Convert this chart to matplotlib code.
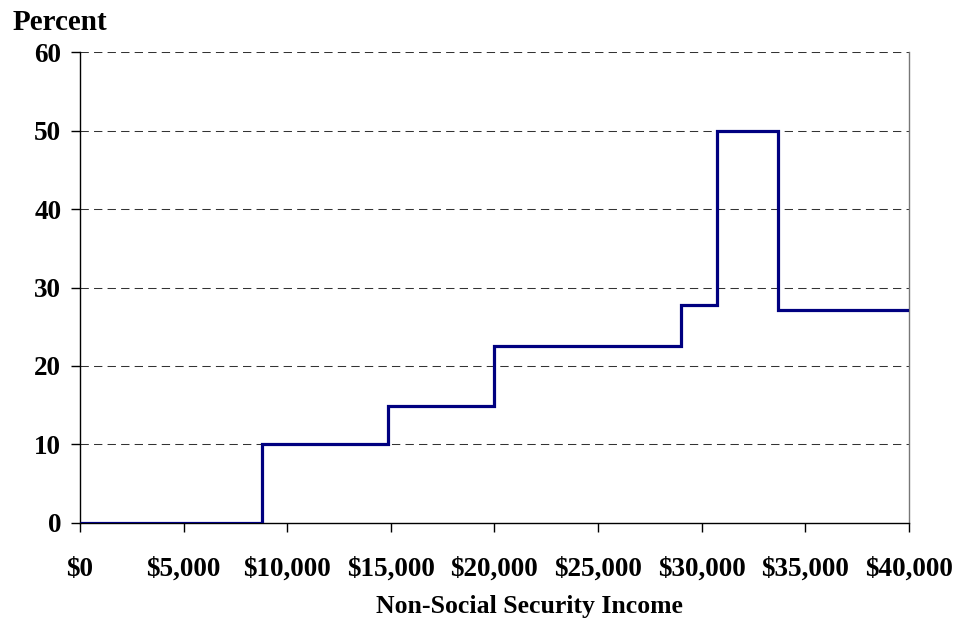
import matplotlib
matplotlib.use("Agg")
from matplotlib import pyplot as plt

# Limites das faixas de renda e percentual em cada faixa
limites_renda = [0, 8800, 14850, 20000, 29000, 30750, 33700, 40000]
percentuais = [0, 10, 14.9, 22.6, 27.8, 50, 27.1]

ticks_x = [0, 5000, 10000, 15000, 20000, 25000, 30000, 35000, 40000]
rotulos_x = ["$0", "$5,000", "$10,000", "$15,000", "$20,000",
             "$25,000", "$30,000", "$35,000", "$40,000"]
ticks_y = [0, 10, 20, 30, 40, 50, 60]

plt.rcParams['font.family'] = ['Liberation Serif', 'DejaVu Serif']
plt.rcParams['font.weight'] = 'bold'

fig = plt.figure(figsize=(9.57, 6.23), dpi=100)
ax = fig.add_axes([0.0836, 0.161, 0.9495 - 0.0836, 0.916 - 0.161])

ax.stairs(percentuais, limites_renda, baseline=None, color='#000080', linewidth=2.3, zorder=3)

ax.set_xlim(0, 40000)
ax.set_ylim(0, 60)
ax.set_xticks(ticks_x)
ax.set_xticklabels(rotulos_x)
ax.set_yticks(ticks_y)

for y in ticks_y[1:]:
    ax.axhline(y, color='#333333', linewidth=0.75, linestyle=(0, (8, 5)), zorder=1)

ax.spines['top'].set_visible(False)
ax.spines['right'].set_color('#777777')
ax.spines['left'].set_color('black')
ax.spines['bottom'].set_color('black')
for s in ax.spines.values():
    s.set_linewidth(1.0)

ax.tick_params(axis='both', labelsize=19.5, length=6.5, width=1.0, colors='black', direction='out')
ax.tick_params(axis='x', pad=18)
ax.tick_params(axis='y', pad=7)
for lbl in ax.get_xticklabels() + ax.get_yticklabels():
    lbl.set_fontweight('bold')

# Rótulo do eixo x (levemente deslocado para a direita, como no original)
fig.text(0.553, 0.027, "Non-Social Security Income", fontsize=18.5, fontweight='bold',
         ha='center', va='center')
fig.text(0.013, 0.952, "Percent", fontsize=21, fontweight='bold', ha='left', va='baseline')

fig.savefig("out.png", dpi=100)
